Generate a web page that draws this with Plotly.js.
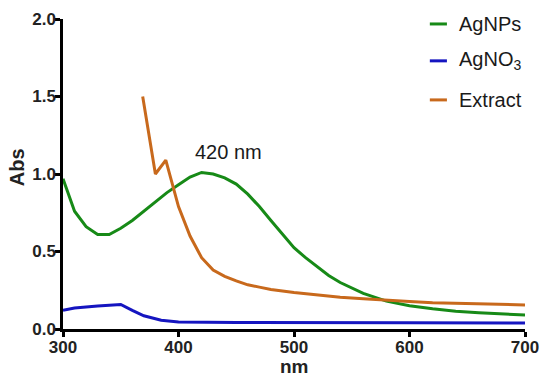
<!DOCTYPE html>
<html><head><meta charset="utf-8">
<script src="https://cdn.plot.ly/plotly-3.0.1.min.js"></script>
<style>html,body{margin:0;padding:0;background:#fff;}#chart{width:550px;height:381px;}</style>
</head><body><div id="chart"></div>
<script>
const agnpsX = [300,310,320,330,340,350,360,370,380,390,400,410,420,430,440,450,460,470,480,490,500,510,520,530,540,560,580,600,620,640,660,680,700];
const agnpsY = [0.97,0.76,0.66,0.61,0.61,0.65,0.70,0.76,0.82,0.88,0.93,0.98,1.01,1.00,0.975,0.935,0.87,0.79,0.70,0.61,0.525,0.46,0.40,0.345,0.30,0.23,0.18,0.15,0.13,0.115,0.105,0.097,0.09];
const agno3X = [300,310,330,350,360,370,385,400,450,500,600,700];
const agno3Y = [0.12,0.135,0.148,0.158,0.12,0.085,0.057,0.045,0.042,0.04,0.04,0.038];
const extractX = [369,380,389,400,410,420,430,440,450,460,470,480,500,520,540,560,580,600,620,650,700];
const extractY = [1.50,1.00,1.09,0.79,0.60,0.46,0.38,0.34,0.31,0.285,0.27,0.255,0.235,0.22,0.205,0.195,0.185,0.178,0.17,0.163,0.155];
const seriesNames = ['AgNPs','AgNO<sub>3</sub>','Extract'];
const colors = ['#178a17','#1515c0','#c8691c'];
const xTicks = [300,400,500,600,700];
const yTicks = [0,0.5,1,1.5,2];
const yTickText = ['0.0','0.5','1.0','1.5','2.0'];
const xRange = [300,700];
const yRange = [0,2];
const peakLabel = '420 nm';
const xTitle = 'nm';
const yTitle = 'Abs';

const traces = [
  {x: agnpsX, y: agnpsY, name: seriesNames[0]},
  {x: agno3X, y: agno3Y, name: seriesNames[1]},
  {x: extractX, y: extractY, name: seriesNames[2]}
].map((t,i)=>Object.assign(t,{type:'scatter',mode:'lines',line:{color:colors[i],width:3},showlegend:false,hoverinfo:'skip'}));
// invisible helper point so the overlay label axes are drawn
traces.push({type:'scatter',mode:'markers',x:[xRange[0]],y:[yRange[0]],xaxis:'x2',yaxis:'y2',marker:{opacity:0,size:1},showlegend:false,hoverinfo:'skip'});

const FONT = 'Liberation Sans, Arial, sans-serif';
const legY = [0.984,0.865,0.739];
const shapes = [], annotations = [];
seriesNames.forEach((n,i)=>{
  shapes.push({type:'line',xref:'paper',yref:'paper',x0:0.794,x1:0.831,y0:legY[i],y1:legY[i],line:{color:colors[i],width:3}});
  annotations.push({xref:'paper',yref:'paper',x:0.852,y:legY[i],xanchor:'left',yanchor:'middle',text:n,showarrow:false,font:{family:FONT,size:20,color:'#1a1a1a'}});
});
annotations.push({x:443,y:1.14,xref:'x',yref:'y',text:peakLabel,showarrow:false,font:{family:FONT,size:20,color:'#1a1a1a'}});
annotations.push({xref:'paper',yref:'paper',x:0.5,y:-0.12,xanchor:'center',yanchor:'middle',text:xTitle,showarrow:false,font:{family:FONT,size:19,color:'#222',weight:'bold'}});
annotations.push({xref:'paper',yref:'paper',x:-0.099,y:0.523,xanchor:'center',yanchor:'middle',textangle:-90,text:yTitle,showarrow:false,font:{family:FONT,size:20,color:'#222',weight:'bold'}});

const tickFont = {family:FONT,size:17,color:'#222',weight:'bold'};
const layout = {
  width:550,height:381,
  margin:{l:63,r:25,t:19,b:52},
  paper_bgcolor:'#fff',plot_bgcolor:'#fff',
  // main axes: lines and outside tick marks
  xaxis:{range:xRange,tickvals:xTicks,showgrid:false,zeroline:false,showline:true,linewidth:3,linecolor:'#000',ticks:'outside',ticklen:5,tickwidth:3,tickcolor:'#000',showticklabels:false},
  yaxis:{range:yRange,tickvals:yTicks,showgrid:false,zeroline:false,showline:true,linewidth:3,linecolor:'#000',ticks:'outside',ticklen:5,tickwidth:3,tickcolor:'#000',showticklabels:false},
  // overlay axes: tick labels only, sitting close to the axis
  xaxis2:{range:xRange,tickvals:xTicks,ticktext:xTicks.map(String),overlaying:'x',anchor:'y2',side:'bottom',showgrid:false,zeroline:false,showline:false,ticks:'',tickfont:tickFont,ticklabelstandoff:6},
  yaxis2:{range:yRange,tickvals:yTicks,ticktext:yTickText,overlaying:'y',anchor:'x2',side:'left',showgrid:false,zeroline:false,showline:false,ticks:'',tickfont:tickFont,ticklabelstandoff:6},
  shapes:shapes,annotations:annotations
};
Plotly.newPlot('chart',traces,layout,{displayModeBar:false,staticPlot:true});
</script></body></html>
